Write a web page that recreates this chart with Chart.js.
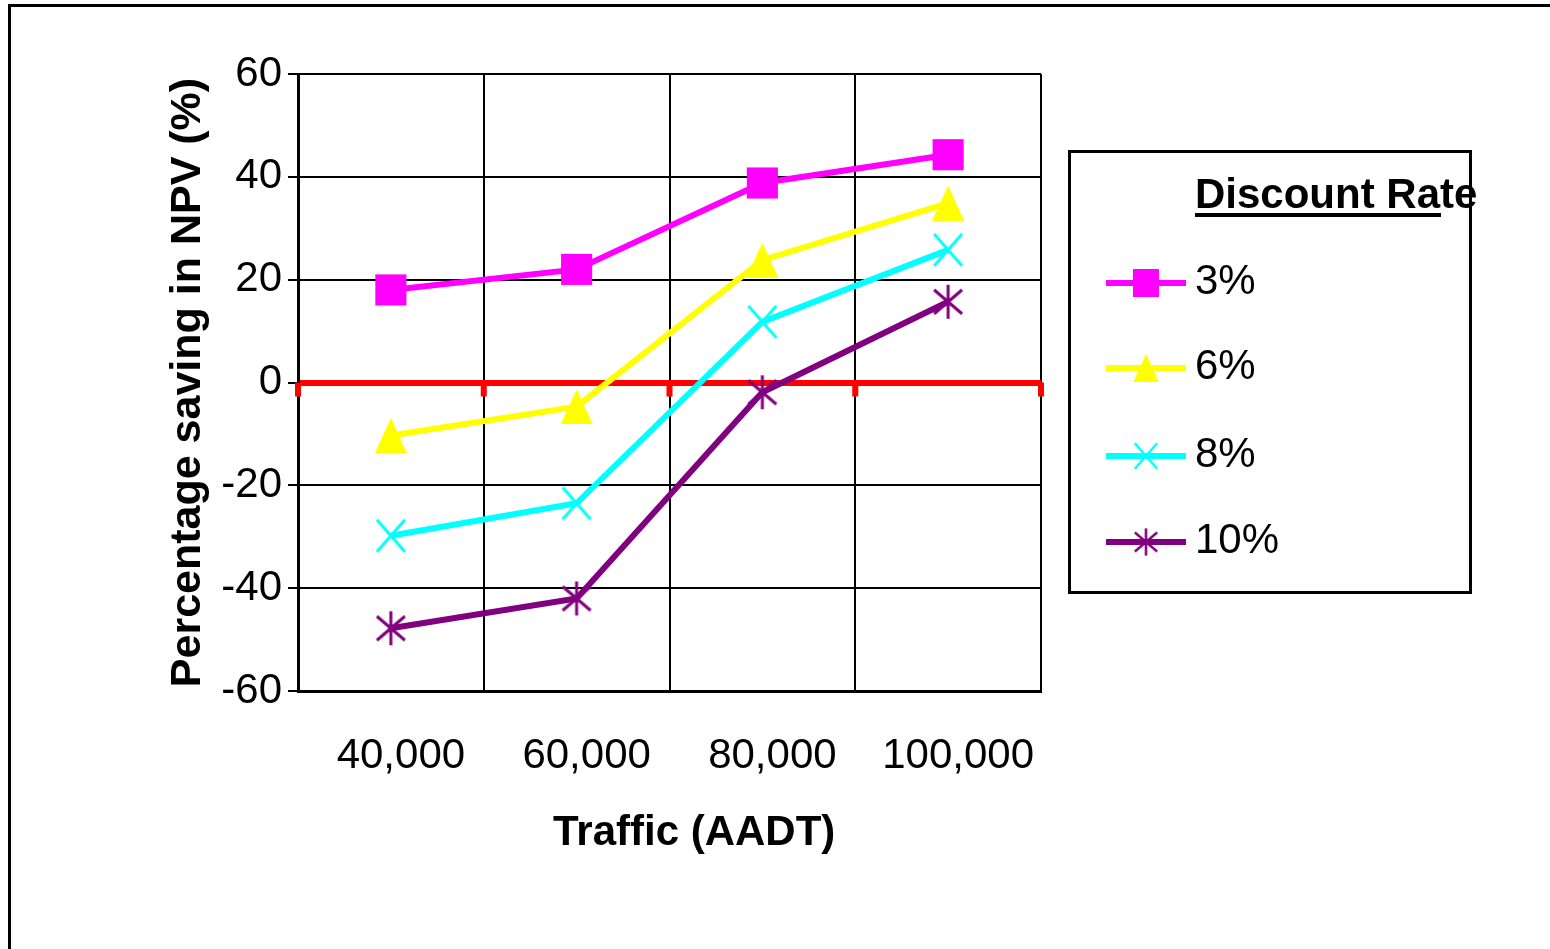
<!DOCTYPE html>
<html>
<head>
<meta charset="utf-8">
<script src="https://cdn.jsdelivr.net/npm/chart.js@4/dist/chart.umd.min.js"></script>
<style>
  html, body { margin: 0; padding: 0; background: #fff; }
  #wrap { width: 1550px; height: 949px; position: relative; }
</style>
</head>
<body>
<div id="wrap"><canvas id="chart" width="1550" height="949"></canvas></div>
<script>
// data
const categories = ['40,000', '60,000', '80,000', '100,000'];
const seriesLabels = ['3%', '6%', '8%', '10%'];
const rate3 = [18, 22, 38.8, 44.3];
const rate6 = [-10.3, -4.7, 23.8, 34.9];
const rate8 = [-29.8, -23.5, 11.8, 25.8];
const rate10 = [-47.8, -42, -1.9, 15.7];
const yMin = -60, yMax = 60, yStep = 20;

const FONT = 'Liberation Sans, Arial, sans-serif';

// excel-ish markers
function markerCanvas(w, h, draw) {
    const c = document.createElement('canvas');
    c.width = w; c.height = h;
    draw(c.getContext('2d'), w, h);
    return c;
}
const triMark = markerCanvas(32, 35, (g, w, h) => {
    g.fillStyle = '#ffff00';
    g.beginPath(); g.moveTo(w / 2, 0); g.lineTo(w, h); g.lineTo(0, h); g.closePath(); g.fill();
});
const xMark = markerCanvas(32, 36, (g, w, h) => {
    g.strokeStyle = '#00ffff'; g.lineWidth = 3;
    g.beginPath();
    g.moveTo(2, 2); g.lineTo(w - 2, h - 2);
    g.moveTo(2, h - 2); g.lineTo(w - 2, 2);
    g.stroke();
});
const starMark = markerCanvas(32, 36, (g, w, h) => {
    g.strokeStyle = '#800080'; g.lineWidth = 3;
    g.beginPath();
    g.moveTo(w / 2, 1); g.lineTo(w / 2, h - 1);
    g.moveTo(2, 6); g.lineTo(w - 2, h - 6);
    g.moveTo(2, h - 6); g.lineTo(w - 2, 6);
    g.stroke();
});

const decor = {
    id: 'decor',
    beforeDraw(chart) {
        const ctx = chart.ctx;
        ctx.save();
        ctx.fillStyle = '#000';
        ctx.fillRect(8, 4, 1542, 3);
        ctx.fillRect(8, 4, 3, 945);
        ctx.restore();
    },
    afterDraw(chart) {
        const ctx = chart.ctx;
        const area = chart.chartArea;
        const zy = chart.scales.y.getPixelForValue(0);
        ctx.save();
        // category axis tick marks on the zero line
        ctx.fillStyle = '#ff0000';
        const n = categories.length;
        for (let i = 0; i <= n; i++) {
            const px = area.left + i * (area.right - area.left) / n;
            ctx.fillRect(px - 3, zy, 6, 14);
        }
        // x axis title
        ctx.fillStyle = '#000';
        ctx.font = 'bold 42px ' + FONT;
        ctx.textBaseline = 'alphabetic';
        ctx.textAlign = 'left';
        ctx.fillText('Traffic (AADT)', 553, 845);

        // legend
        ctx.strokeStyle = '#000';
        ctx.lineWidth = 3;
        ctx.strokeRect(1069.5, 151.5, 401, 441);
        ctx.fillText('Discount Rate', 1195, 208);
        ctx.fillRect(1195, 213, 246, 4);
        ctx.font = '42px ' + FONT;
        const rows = [283, 368, 456, 542];
        chart.data.datasets.forEach((ds, i) => {
            const yy = rows[i];
            ctx.strokeStyle = ds.borderColor;
            ctx.lineWidth = 6;
            ctx.beginPath(); ctx.moveTo(1106, yy); ctx.lineTo(1186, yy); ctx.stroke();
            if (ds.pointStyle instanceof HTMLCanvasElement) {
                const s = 0.8, w = ds.pointStyle.width * s, h = ds.pointStyle.height * s;
                ctx.drawImage(ds.pointStyle, 1146 - w / 2, yy - h / 2, w, h);
            } else {
                ctx.fillStyle = ds.pointBackgroundColor;
                ctx.fillRect(1133, yy - 14, 26, 28);
            }
            ctx.fillStyle = '#000';
            ctx.fillText(ds.label, 1195, yy + 11);
        });
        ctx.restore();
    }
};

new Chart(document.getElementById('chart').getContext('2d'), {
    type: 'line',
    data: {
        labels: categories,
        datasets: [
            { label: seriesLabels[0], data: rate3, borderColor: '#ff00ff', pointBackgroundColor: '#ff00ff',
              pointStyle: 'rect', pointRadius: 22, pointBorderWidth: 0 },
            { label: seriesLabels[1], data: rate6, borderColor: '#ffff00', pointBackgroundColor: '#ffff00',
              pointStyle: triMark, pointRadius: 18 },
            { label: seriesLabels[2], data: rate8, borderColor: '#00ffff', pointBackgroundColor: '#00ffff',
              pointStyle: xMark, pointRadius: 18 },
            { label: seriesLabels[3], data: rate10, borderColor: '#800080', pointBackgroundColor: '#800080',
              pointStyle: starMark, pointRadius: 18 }
        ].map(d => Object.assign({ borderWidth: 6, tension: 0, fill: false }, d))
    },
    options: {
        responsive: false,
        animation: false,
        events: [],
        layout: { padding: { left: 140, top: 74, right: 509, bottom: 0 } },
        plugins: { legend: { display: false }, tooltip: { enabled: false }, title: { display: false } },
        scales: {
            x: {
                offset: true,
                grid: { offset: true, color: '#000', lineWidth: 2, drawTicks: false },
                border: { color: '#000', width: 3 },
                ticks: { color: '#000', font: { size: 42, family: FONT }, padding: 40, labelOffset: 10, maxRotation: 0 },
                afterFit(axis) { axis.height = 258; }
            },
            y: {
                min: yMin, max: yMax,
                ticks: { stepSize: yStep, color: '#000', font: { size: 42, family: FONT }, padding: 6 },
                grid: {
                    color: c => c.tick && c.tick.value === 0 ? '#ff0000' : '#000',
                    lineWidth: c => c.tick && c.tick.value === 0 ? 6 : 2,
                    tickColor: '#000', tickWidth: 2, tickLength: 10
                },
                border: { color: '#000', width: 3 },
                title: {
                    display: true, text: 'Percentage saving in NPV (%)', color: '#000',
                    font: { size: 43, weight: 'bold', family: FONT },
                    padding: { top: 22, bottom: 0 }
                },
                afterFit(axis) { axis.width = 158; }
            }
        }
    },
    plugins: [decor]
});
</script>
</body>
</html>
